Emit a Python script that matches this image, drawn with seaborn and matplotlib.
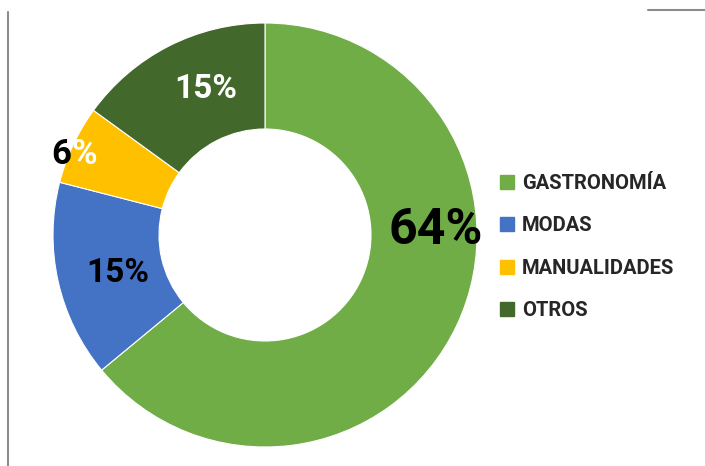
import matplotlib
matplotlib.use("Agg")
import matplotlib.pyplot as plt
from matplotlib.lines import Line2D
import seaborn as sns

# data
categories = ["GASTRONOMÍA", "MODAS", "MANUALIDADES", "OTROS"]
shares = [64, 15, 6, 15]
colors = ["#70AD47", "#4472C4", "#FFC000", "#43682B"]

sns.set_style("white")
plt.rcParams["font.family"] = ["Roboto", "DejaVu Sans"]

fig = plt.figure(figsize=(7.05, 4.66), dpi=100)
ax = fig.add_axes([53 / 705, 19 / 466, 424 / 705, 424 / 466])

wedges, _ = ax.pie(shares, colors=sns.color_palette(colors), startangle=90,
                   counterclock=False, radius=1.0,
                   wedgeprops=dict(width=0.5, edgecolor="white", linewidth=0.8))
ax.set_xlim(-1, 1)
ax.set_ylim(-1, 1)
ax.set_aspect("equal")
ax.axis("off")

def px(x, y):
    # pixel position in the picture -> data coords of the donut
    return (x - 265) / 212, (235 - y) / 212

lab = [f"{v}%" for v in shares]
ax.text(*px(436, 231), lab[0], ha="center", va="center", fontsize=36,
        fontweight="bold", color="black")
ax.text(*px(118, 273), lab[1], ha="center", va="center", fontsize=24,
        fontweight="bold", color="black")
ax.text(*px(71, 154), lab[2][:-1], ha="right", va="center", fontsize=25,
        fontweight="bold", color="black")
ax.text(*px(71, 154), "%", ha="left", va="center", fontsize=25,
        fontweight="bold", color="white")
ax.text(*px(206, 89), lab[3], ha="center", va="center", fontsize=24,
        fontweight="bold", color="white")

handles = [Line2D([], [], marker="s", linestyle="", markersize=10,
                  markerfacecolor=c, markeredgecolor=c) for c in colors]
fig.legend(handles, categories, loc="center left",
           bbox_to_anchor=(497 / 705, 1 - 247 / 466), frameon=False,
           prop=dict(family="Roboto", weight="bold", size=14.5),
           handlelength=1.0, handletextpad=0.25, labelspacing=1.15,
           borderpad=0, borderaxespad=0)

# frame fragments
fig.add_artist(Line2D([8 / 705, 8 / 705], [0, 1 - 12 / 466], color="#8c8c8c", lw=1.5))
fig.add_artist(Line2D([648 / 705, 1], [1 - 10 / 466, 1 - 10 / 466], color="#8c8c8c", lw=1.5))

fig.savefig("out.png", dpi=100)
